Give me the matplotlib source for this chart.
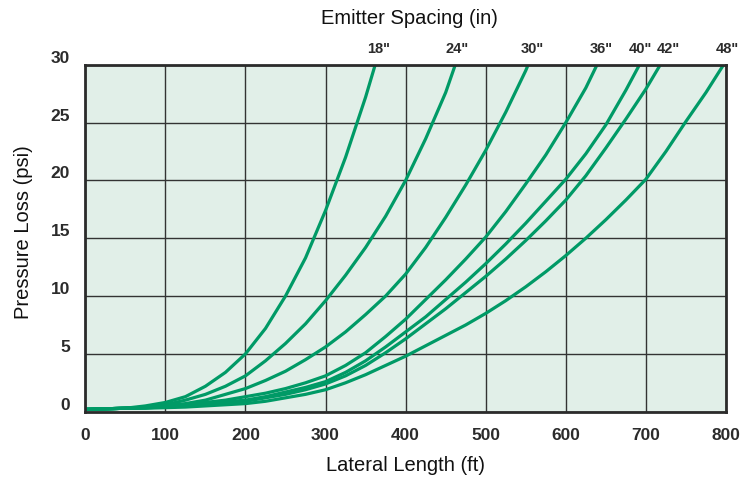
import matplotlib.pyplot as plt
import numpy as np

plt.rcParams['font.family'] = ['Liberation Sans', 'DejaVu Sans']

##==================== data ====================
spacing_labels = ['18"', '24"', '30"', '36"', '40"', '42"', '48"']

len_18 = [0, 25, 50, 75, 100, 125, 150, 175, 200, 225, 250, 275, 300, 325, 350, 362]
loss_18 = [0.2, 0.25, 0.3, 0.5, 0.8, 1.3, 2.2, 3.4, 5.0, 7.2, 10.0, 13.3, 17.4, 22.0, 27.2, 30.0]

len_24 = [0, 25, 50, 75, 100, 125, 150, 175, 200, 225, 250, 275, 300, 325, 350, 375, 400, 425, 450, 462]
loss_24 = [0.2, 0.25, 0.3, 0.4, 0.6, 1.0, 1.5, 2.2, 3.1, 4.4, 5.9, 7.6, 9.6, 11.8, 14.2, 16.9,
           20.0, 23.6, 27.6, 30.0]

len_30 = [0, 25, 50, 75, 100, 125, 150, 175, 200, 225, 250, 275, 300, 325, 350, 375, 400,
          425, 450, 475, 500, 525, 550, 553]
loss_30 = [0.2, 0.25, 0.3, 0.35, 0.5, 0.7, 1.0, 1.5, 2.0, 2.7, 3.5, 4.5, 5.6, 6.9, 8.4, 10.0,
           11.9, 14.2, 16.8, 19.6, 22.6, 25.9, 29.5, 30.0]

len_36 = [0, 25, 50, 75, 100, 125, 150, 175, 200, 225, 250, 275, 300, 325, 350, 375, 400,
          425, 450, 475, 500, 525, 550, 575, 600, 625, 639]
loss_36 = [0.2, 0.25, 0.3, 0.35, 0.4, 0.55, 0.8, 1.0, 1.3, 1.6, 2.0, 2.5, 3.1, 4.0, 5.1, 6.5,
           8.0, 9.7, 11.4, 13.2, 15.1, 17.3, 19.7, 22.2, 25.0, 28.0, 30.0]

len_40 = [0, 25, 50, 75, 100, 125, 150, 175, 200, 225, 250, 275, 300, 325, 350, 375, 400,
          425, 450, 475, 500, 525, 550, 575, 600, 625, 650, 675, 692]
loss_40 = [0.2, 0.25, 0.3, 0.35, 0.4, 0.5, 0.7, 0.85, 1.0, 1.3, 1.7, 2.1, 2.6, 3.4, 4.4, 5.6,
           6.9, 8.2, 9.7, 11.2, 12.8, 14.5, 16.3, 18.2, 20.1, 22.3, 24.8, 27.8, 30.0]

len_42 = [0, 25, 50, 75, 100, 125, 150, 175, 200, 225, 250, 275, 300, 325, 350, 375, 400,
          425, 450, 475, 500, 525, 550, 575, 600, 625, 650, 675, 700, 718]
loss_42 = [0.2, 0.25, 0.3, 0.35, 0.4, 0.5, 0.6, 0.75, 0.9, 1.2, 1.5, 1.9, 2.4, 3.1, 4.0, 5.1,
           6.3, 7.6, 8.9, 10.3, 11.7, 13.2, 14.8, 16.5, 18.3, 20.4, 22.8, 25.3, 27.9, 30.0]

len_48 = [0, 25, 50, 75, 100, 125, 150, 175, 200, 225, 250, 275, 300, 325, 350, 375, 400,
          425, 450, 475, 500, 525, 550, 575, 600, 625, 650, 675, 700, 725, 750, 775, 797]
loss_48 = [0.2, 0.25, 0.3, 0.3, 0.35, 0.4, 0.5, 0.6, 0.7, 0.9, 1.2, 1.5, 1.9, 2.5, 3.2, 4.0,
           4.8, 5.7, 6.6, 7.5, 8.5, 9.6, 10.8, 12.1, 13.5, 15.0, 16.6, 18.3, 20.1, 22.5, 25.1,
           27.6, 30.0]

curves = [(len_18, loss_18), (len_24, loss_24), (len_30, loss_30), (len_36, loss_36),
          (len_40, loss_40), (len_42, loss_42), (len_48, loss_48)]

x_ticks = [0, 100, 200, 300, 400, 500, 600, 700, 800]
y_ticks = [0, 5, 10, 15, 20, 25, 30]

##==================== styling ====================
green = '#009a66'
bg = '#e1efe8'
dark = '#2b2b2b'
label_nudge = [3, 2, 4, 4, 1, 8, 4]   # px shift of top labels

fig = plt.figure(figsize=(7.55, 4.85), dpi=100)
ax = fig.add_axes([85.3 / 755, 1 - 412.7 / 485, (726 - 85.3) / 755, (412.7 - 65.7) / 485])
ax.set_facecolor(bg)

for xs, ys in curves:
    ax.plot(xs, ys, color=green, lw=2.3, solid_joinstyle='round', zorder=3)

for (xs, ys), lab, dx in zip(curves, spacing_labels, label_nudge):
    ax.annotate(lab, xy=(xs[-1], ys[-1]), xytext=(dx, 17), textcoords='offset pixels',
                ha='center', va='center', fontsize=10.5, fontweight='bold', color=dark,
                annotation_clip=False)

ax.set_xlim(0, 800)
ax.set_ylim(0, 30)
ax.set_xticks(x_ticks)
ax.set_yticks(y_ticks)
ax.grid(True, color='#333333', lw=1.0)
ax.set_axisbelow(True)
ax.tick_params(length=0, labelsize=12.5, colors=dark)
ax.tick_params(axis='x', pad=11)
ax.tick_params(axis='y', pad=11)
for lab in ax.get_xticklabels() + ax.get_yticklabels():
    lab.set_fontweight('bold')
for lab in ax.get_yticklabels():
    lab.set_va('bottom')

for sp in ax.spines.values():
    sp.set_color(dark)
    sp.set_linewidth(2.0)
    sp.set_zorder(4)

fig.text(405 / 755, 1 - 466 / 485, 'Lateral Length (ft)', ha='center', va='center',
         fontsize=14.5, color='#111111')
fig.text(23.5 / 755, 1 - 232 / 485, 'Pressure Loss (psi)', ha='center', va='center',
         rotation=90, fontsize=14.5, color='#111111')
fig.text(409 / 755, 1 - 18 / 485, 'Emitter Spacing (in)', ha='center', va='center',
         fontsize=14.5, color='#111111')

fig.savefig('out.png', dpi=100)
